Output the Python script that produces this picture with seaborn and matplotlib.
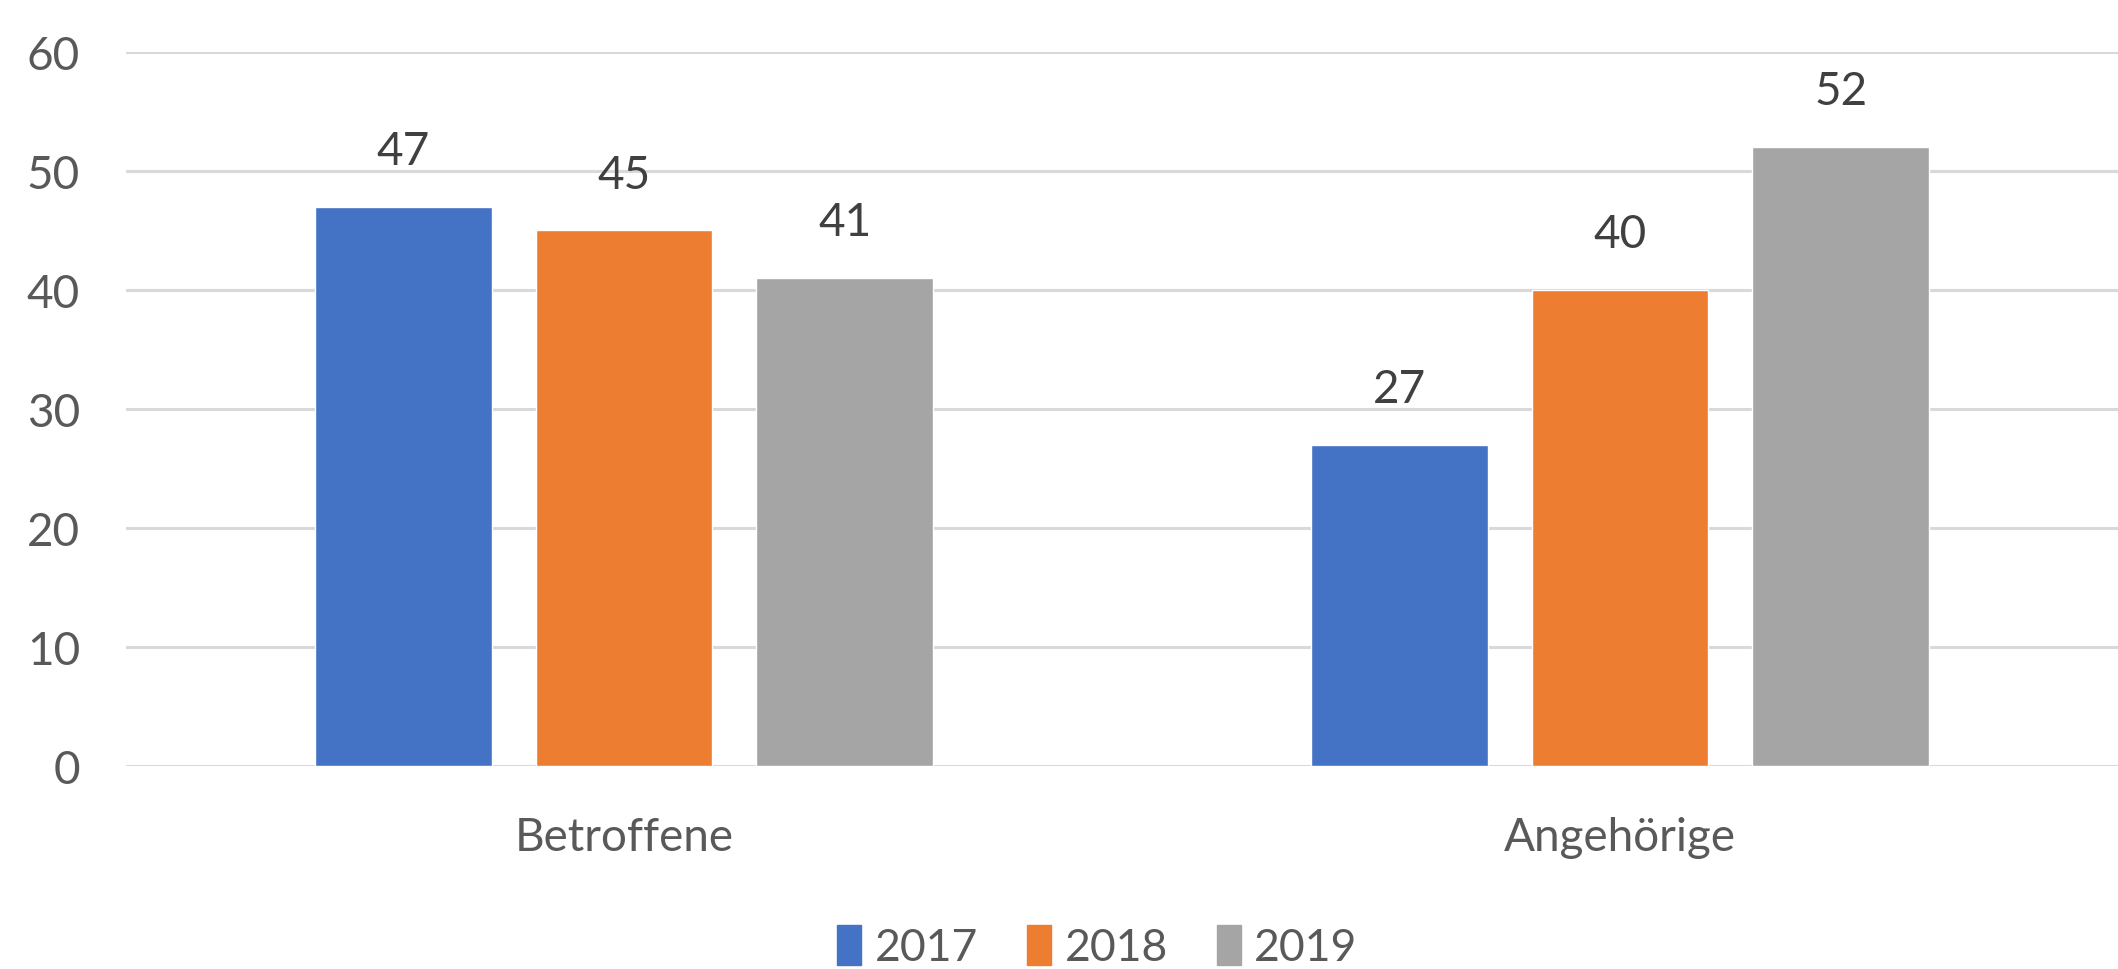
import matplotlib
matplotlib.use('Agg')
import matplotlib.pyplot as plt
import seaborn as sns
import pandas as pd

# data
categories = ['Betroffene', 'Angehörige']
years = ['2017', '2018', '2019']
values_2017 = [47, 27]
values_2018 = [45, 40]
values_2019 = [41, 52]

colors = ['#4472C4', '#ED7D31', '#A5A5A5']

df = pd.DataFrame({
    'Gruppe': categories * 3,
    'Jahr': [years[0]] * 2 + [years[1]] * 2 + [years[2]] * 2,
    'Wert': values_2017 + values_2018 + values_2019,
})

sns.set_style('white')
plt.rcParams['font.family'] = ['Lato', 'DejaVu Sans']

fig = plt.figure(figsize=(21.18, 9.7), dpi=100)
ax = fig.add_axes([0.0595, 0.2093, 0.9405, 0.7361])

sns.barplot(data=df, x='Gruppe', y='Wert', hue='Jahr', palette=colors,
            width=0.665, gap=0.20, ax=ax, saturation=1, zorder=3)

# value labels above bars
for cont in ax.containers:
    ax.bar_label(cont, padding=25, fontsize=33, color='#404040')

ax.set_ylim(0, 60)
ax.set_xlim(-0.5, 1.5)
ax.set_yticks(range(0, 61, 10))
ax.yaxis.grid(True, color='#D9D9D9', linewidth=2.2, zorder=0)
ax.set_axisbelow(True)
for s in ax.spines.values():
    s.set_visible(False)
ax.tick_params(axis='y', length=0, pad=33, labelsize=33, labelcolor='#595959')
ax.tick_params(axis='x', length=0, pad=36, labelsize=33, labelcolor='#595959')
ax.set_xlabel('')
ax.set_ylabel('')

ax.legend_.remove()
handles = [plt.Rectangle((0, 0), 1, 1, color=c) for c in colors]
fig.legend(handles, years, loc='center', bbox_to_anchor=(0.518, 0.023), ncol=3,
           frameon=False, fontsize=32, labelcolor='#595959', handlelength=0.55,
           handleheight=1.0, handletextpad=0.3, columnspacing=1.1)

plt.savefig('out.png', dpi=100)
